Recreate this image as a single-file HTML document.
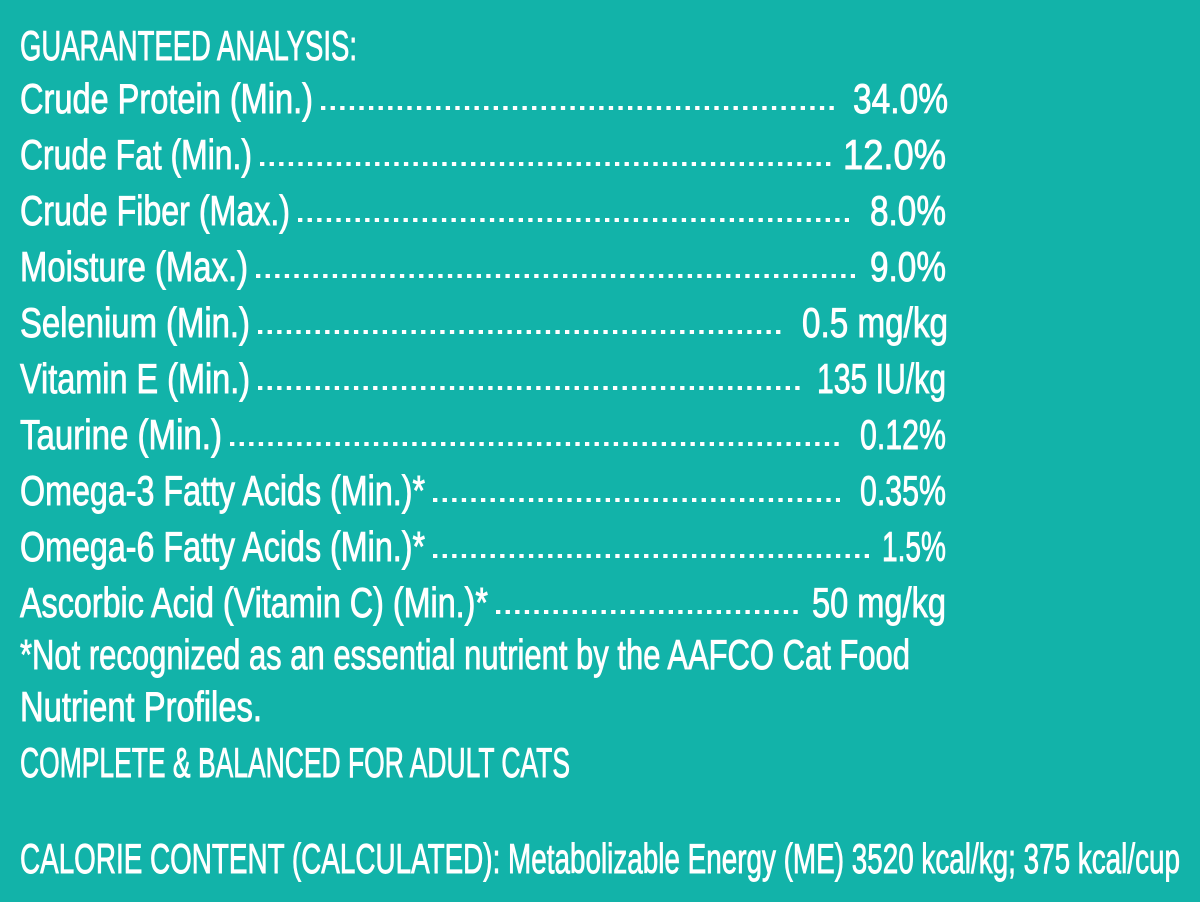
<!DOCTYPE html>
<html><head><meta charset="utf-8"><style>
html,body{margin:0;padding:0}
body{width:1200px;height:902px;background:#12b3a9;position:relative;overflow:hidden;font-family:"Liberation Sans Narrow","Liberation Sans",sans-serif;color:#fff}
.t{position:absolute;font-size:42px;line-height:42px;white-space:nowrap;transform-origin:0 0;-webkit-text-stroke:0.9px #fff}
.d{position:absolute;height:4px;background:linear-gradient(90deg,#fff 0 4.2px,transparent 4.2px) 0 0/9.6px 4px repeat-x}
</style></head><body>
<div id="root"></div>
<script>
var rows=[
["GUARANTEED ANALYSIS:",357,60],
["Crude Protein (Min.)",313,113,"34.0%",853,948],
["Crude Fat (Min.)",252,169,"12.0%",843,946],
["Crude Fiber (Max.)",290,225,"8.0%",870,946],
["Moisture (Max.)",248,281,"9.0%",870,946],
["Selenium (Min.)",250,337,"0.5 mg/kg",802,948],
["Vitamin E (Min.)",250,393,"135 IU/kg",817,946],
["Taurine (Min.)",222,449,"0.12%",860,946],
["Omega-3 Fatty Acids (Min.)*",425,505,"0.35%",860,946],
["Omega-6 Fatty Acids (Min.)*",425,561,"1.5%",882,946],
["Ascorbic Acid (Vitamin C) (Min.)*",488,617,"50 mg/kg",812,946],
["*Not recognized as an essential nutrient by the AAFCO Cat Food",910,669],
["Nutrient Profiles.",262,721],
["COMPLETE & BALANCED FOR ADULT CATS",570,777],
["CALORIE CONTENT (CALCULATED): Metabolizable Energy (ME) 3520 kcal/kg; 375 kcal/cup",1180,873]
];
var root=document.getElementById('root');
function put(txt,l,r,b){
 var e=document.createElement('div');e.className='t';e.textContent=txt;
 e.style.left=l+'px';e.style.top=(b-35.5)+'px';root.appendChild(e);
 var w=e.getBoundingClientRect().width;e.style.transform='scaleX('+((r-l)/w)+')';
}
rows.forEach(function(r){
 put(r[0],20,r[1],r[2]);
 if(r[3]){
  put(r[3],r[4],r[5],r[2]);
  var d=document.createElement('div');d.className='d';
  var s=r[1]+8,e=r[4]-12;
  d.style.left=s+'px';d.style.width=(Math.floor((e-s-4.2)/9.6)*9.6+4.2)+'px';d.style.top=(r[2]-7)+'px';
  root.appendChild(d);
 }
});
</script>
</body></html>
